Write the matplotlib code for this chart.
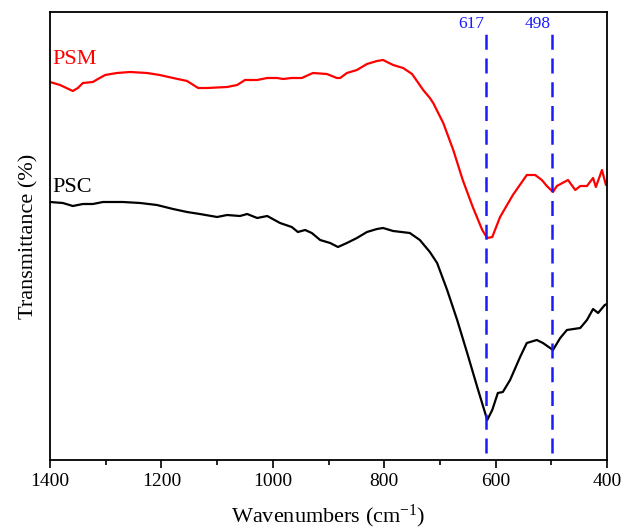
import matplotlib.pyplot as plt
from matplotlib.ticker import MultipleLocator

plt.rcParams['font.family'] = ['Liberation Serif', 'DejaVu Serif']
plt.rcParams['mathtext.fontset'] = 'custom'
plt.rcParams['mathtext.rm'] = 'Liberation Serif'
plt.rcParams['mathtext.it'] = 'Liberation Serif:italic'

# PSM spectrum (offset, arbitrary units)
psm_wn = [1400, 1382, 1359, 1350, 1341, 1323, 1314, 1301, 1280, 1256, 1226, 1203,
          1179, 1154, 1134, 1118, 1082, 1064, 1050, 1028, 1010, 992, 982, 966,
          948, 928, 903, 885, 879, 867, 849, 831, 813, 802, 784, 766, 750, 730,
          718, 712, 694, 676, 659, 641, 624, 615, 606, 592, 569, 544, 529, 517,
          508, 497, 490, 470, 457, 448, 436, 425, 420, 409, 402, 400]
psm_t = [378, 375, 369, 372, 377, 378, 381, 385, 387, 388, 387, 385,
         382, 379, 372, 372, 373, 375, 380, 380, 382, 382, 381, 382,
         382, 387, 386, 382, 382, 387, 390, 396, 399, 400, 395, 392, 386, 370,
         362, 357, 337, 310, 280, 253, 230, 222, 223, 243, 265, 285, 285, 280,
         274, 268, 274, 280, 270, 274, 274, 282, 273, 290, 275, 280]

# PSC spectrum
psc_wn = [1400, 1377, 1359, 1341, 1323, 1305, 1269, 1238, 1208, 1179, 1154, 1131,
          1100, 1082, 1059, 1046, 1028, 1010, 987, 966, 955, 942, 930, 915, 897,
          883, 867, 849, 831, 813, 802, 784, 754, 736, 718, 705, 687, 669, 651,
          633, 615, 606, 596, 587, 574, 556, 544, 526, 515, 497, 484, 472, 448,
          436, 425, 416, 404, 400]
psc_t = [258, 257, 254, 256, 256, 258, 258, 257, 255, 251, 248, 246,
         243, 245, 244, 246, 242, 244, 237, 233, 228, 230, 227, 220, 217,
         213, 217, 222, 228, 231, 232, 229, 227, 220, 208, 197, 170, 140, 107,
         73, 40, 50, 67, 68, 80, 103, 117, 120, 117, 110, 122, 130, 132,
         140, 151, 147, 155, 156]

peaks = [617, 498]

fig = plt.figure(figsize=(6.32, 5.30), dpi=100)
ax = fig.add_axes([50 / 632, 70 / 530, 557 / 632, 448 / 530])

ax.plot(psm_wn, psm_t, color='red', lw=1.6, solid_joinstyle='round')
ax.plot(psc_wn, psc_t, color='black', lw=1.6, solid_joinstyle='round')

for p in peaks:
    ax.plot([p, p], [7, 428], color='#1a1aff', lw=1.8, dashes=(6, 3.5))
    ax.text(p + 3, 436, str(p), color='#1a1aff', fontsize=12.5, ha='right', va='center')

ax.text(1395, 401, 'PSM', color='red', fontsize=16, va='center')
ax.text(1395, 273, 'PSC', color='black', fontsize=16, va='center')

ax.set_xlim(1400, 400)
ax.set_ylim(0, 448)
ax.xaxis.set_major_locator(MultipleLocator(200))
ax.xaxis.set_minor_locator(MultipleLocator(100))
ax.tick_params(axis='x', which='major', direction='out', length=6, width=1.2, labelsize=14)
ax.tick_params(axis='x', which='minor', direction='out', length=3.5, width=1.2)
ax.set_yticks([])
for s in ax.spines.values():
    s.set_linewidth(1.3)

ax.set_xlabel('Wavenumbers (cm$^{-1}$)', fontsize=16, labelpad=9)
ax.set_ylabel('Transmittance (%)', fontsize=16, labelpad=8)

fig.savefig('out.png', dpi=100)
